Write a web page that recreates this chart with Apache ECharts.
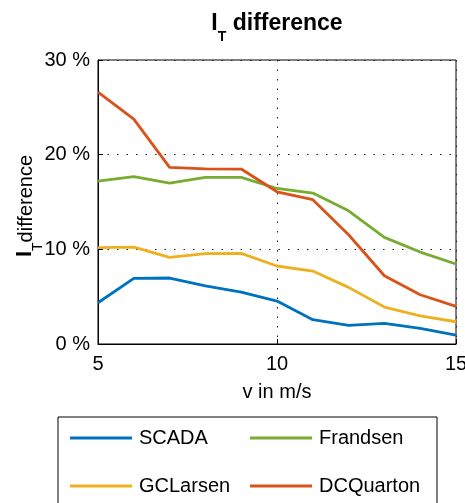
<!DOCTYPE html>
<html><head><meta charset="utf-8">
<script src="https://cdn.jsdelivr.net/npm/echarts@6/dist/echarts.min.js"></script>
<style>html,body{margin:0;padding:0;background:#fff}#c{width:465px;height:503px}</style>
</head><body><div id="c"></div>
<script>
const windSpeeds = [5, 6, 7, 8, 9, 10, 11, 12, 13, 14, 15];
const seriesNames = ['SCADA', 'Frandsen', 'GCLarsen', 'DCQuarton'];
const scada     = [4.36, 6.93, 6.97, 6.15, 5.49, 4.54, 2.57, 1.97, 2.18, 1.65, 0.95];
const frandsen  = [17.2, 17.67, 17.0, 17.6, 17.6, 16.43, 15.94, 14.07, 11.26, 9.71, 8.45];
const gclarsen  = [10.17, 10.24, 9.15, 9.54, 9.57, 8.24, 7.71, 5.98, 3.9, 2.96, 2.35];
const dcquarton = [26.6, 23.75, 18.65, 18.5, 18.48, 16.08, 15.24, 11.54, 7.21, 5.2, 3.97];
const yTicks = [0, 10, 20, 30];
const xTicks = [5, 10, 15];
const colors = ['#0072BD', '#77AC30', '#EDB120', '#D95319'];

const values = [scada, frandsen, gclarsen, dcquarton];
const font = 'Liberation Sans, Arial, sans-serif';
const chart = echarts.init(document.getElementById('c'));
chart.setOption({
  animation: false,
  title: {
    text: '{i|I}{t|T}{d| difference}',
    left: 277, textAlign: 'center', top: 12, padding: 0,
    textStyle: {
      rich: {
        i: {fontSize: 23, lineHeight: 23, fontWeight: 'bold', fontFamily: font, color: '#000', verticalAlign: 'top'},
        t: {fontSize: 14, lineHeight: 14, fontWeight: 'bold', fontFamily: font, color: '#000', verticalAlign: 'top', padding: [18, 0, 0, 0]},
        d: {fontSize: 23, lineHeight: 23, fontWeight: 'bold', fontFamily: font, color: '#000', verticalAlign: 'top'}
      }
    }
  },
  grid: {left: 98, right: 9, top: 60, bottom: 159, outerBoundsMode: 'none', containLabel: false, show: true, borderColor: '#000', borderWidth: 1, backgroundColor: 'transparent'},
  xAxis: {
    type: 'value', min: xTicks[0], max: xTicks[xTicks.length - 1], interval: 5,
    name: 'v in m/s', nameLocation: 'middle', nameGap: 38, nameMoveOverlap: false,
    nameTextStyle: {fontSize: 20, fontFamily: font, color: '#000'},
    axisLine: {show: true, lineStyle: {color: '#000', width: 1}},
    axisTick: {show: true, inside: true, length: 5, lineStyle: {color: '#000'}},
    axisLabel: {fontSize: 20, fontFamily: font, color: '#000', margin: 10},
    splitLine: {show: true, lineStyle: {type: [1.5, 8], color: '#222', width: 1}}
  },
  yAxis: {
    type: 'value', min: yTicks[0], max: yTicks[yTicks.length - 1], interval: 10,
    name: '{i|I}{t|T}{d|difference}', nameLocation: 'middle', nameGap: 62, nameRotate: 90, nameMoveOverlap: false,
    nameTextStyle: {
      padding: [0, 8, 0, 0],
      rich: {
        i: {fontSize: 22, lineHeight: 22, fontWeight: 'bold', fontFamily: font, color: '#000', verticalAlign: 'top'},
        t: {fontSize: 14, lineHeight: 14, fontFamily: font, color: '#000', verticalAlign: 'top', padding: [17, 0, 0, 0]},
        d: {fontSize: 20, lineHeight: 20, fontFamily: font, color: '#000', verticalAlign: 'top', padding: [2, 0, 0, 0]}
      }
    },
    axisLine: {show: true, lineStyle: {color: '#000', width: 1}},
    axisTick: {show: true, inside: true, length: 5, lineStyle: {color: '#000'}},
    axisLabel: {fontSize: 20, fontFamily: font, color: '#000', margin: 8, formatter: '{value} %'},
    splitLine: {show: true, lineStyle: {type: [1.5, 8], color: '#222', width: 1}}
  },
  legend: {
    data: seriesNames,
    left: 58, top: 417,
    width: 380,
    orient: 'horizontal',
    borderColor: '#000', borderWidth: 1, borderRadius: 0,
    padding: [1, 15, 30, 12],
    itemGap: 8,
    itemWidth: 62, itemHeight: 3,
    icon: 'rect',
    textStyle: {fontSize: 20, fontFamily: font, color: '#000', width: 103, height: 40, lineHeight: 40, padding: [0, 0, 0, 2]}
  },
  series: seriesNames.map((n, k) => ({
    name: n, type: 'line',
    data: windSpeeds.map((x, i) => [x, values[k][i]]),
    showSymbol: false, symbol: 'none',
    color: colors[k],
    lineStyle: {width: 2.8, color: colors[k]},
    itemStyle: {color: colors[k]},
    z: 3
  }))
});
</script></body></html>
